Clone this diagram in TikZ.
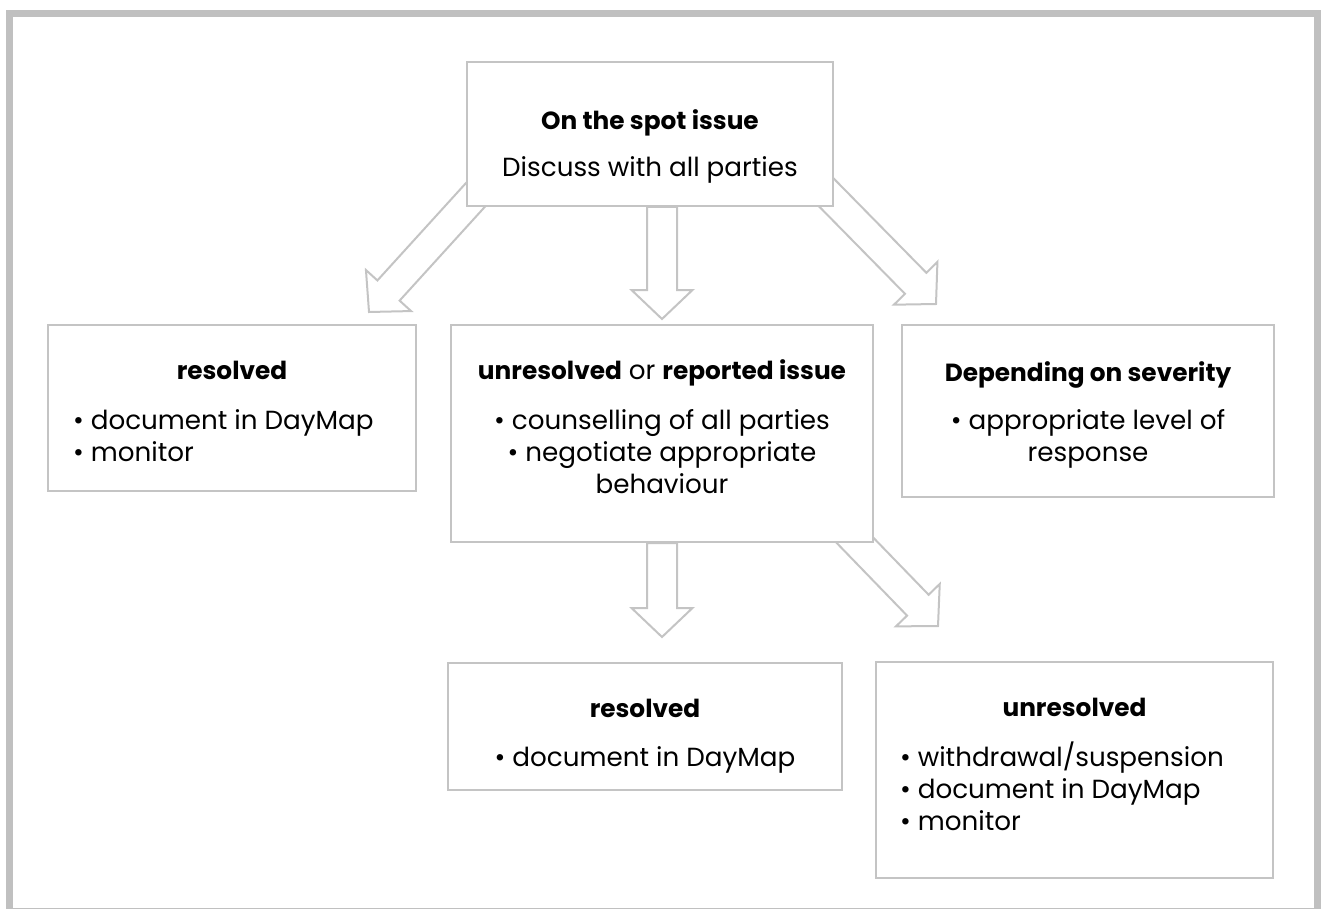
\documentclass[tikz,border=0pt]{standalone}
\usepackage{fontspec}
\setmainfont{Poppins}
\usetikzlibrary{positioning}
\usetikzlibrary{calc}
\usetikzlibrary{backgrounds}
\definecolor{framegray}{HTML}{C0C0C0}
\definecolor{boxgray}{HTML}{C4C4C4}
\tikzset{
  stage/.style={draw=boxgray, line width=1pt, fill=white, inner sep=0pt},
  arrowline/.style={draw=boxgray, line width=1pt, fill=white, line join=miter}
}
% bold heading, a little smaller than the body text
\newcommand\heading[1]{{\fontsize{12.4}{16}\selectfont\bfseries #1}}
% hollow block arrow from #1 to the tip #2
\newcommand\blockarrow[2]{
  \coordinate (ah) at ($(#2)!14.5pt!(#1)$);
  \draw[arrowline] ($(#1)!7.5pt!90:(#2)$) -- ($(ah)!7.5pt!90:(#2)$) -- ($(ah)!15.25pt!90:(#2)$)
    -- (#2) -- ($(ah)!15.25pt!-90:(#2)$) -- ($(ah)!7.5pt!-90:(#2)$) -- ($(#1)!7.5pt!-90:(#2)$) -- cycle;
}

\begin{document}
\begin{tikzpicture}[x=0.5pt, y=-0.5pt, font=\fontsize{13.1}{16}\selectfont]
  \useasboundingbox (0,0) rectangle (1321,909);
  \draw[framegray, line width=3.5pt] (9.5,13.5) rectangle (1317,911);

  \node[stage] (spot) at (650,134) {\parbox[c][72pt][t]{183pt}{\centering
    \rule{0pt}{34pt}\heading{On the spot issue}\par\vspace{7.5pt}
    Discuss with all parties}};
  \node[stage] (res) at (232,408) {\parbox[c][83pt][t]{184pt}{\centering
    \rule{0pt}{27pt}\heading{resolved}\par\vspace{9pt}
    \raggedright\leftskip=12.5pt
    \textbullet\ document in DayMap\\
    \textbullet\ monitor}};
  \node[stage] (unres) at (662,433.5) {\parbox[c][108.5pt][t]{211pt}{\centering
    \rule{0pt}{27pt}\heading{unresolved} or \heading{reported issue}\par\vspace{9pt}
    \textbullet\ counselling of all parties\\
    \textbullet\ negotiate appropriate\\
    behaviour}};
  \node[stage] (sev) at (1088,411) {\parbox[c][86pt][t]{186pt}{\centering
    \rule{0pt}{28pt}\heading{Depending on severity}\par\vspace{8pt}
    \textbullet\ appropriate level of\\
    response}};
  \node[stage] (res2) at (645,726.5) {\parbox[c][63.5pt][t]{197pt}{\centering
    \rule{0pt}{27pt}\heading{resolved}\par\vspace{8.5pt}
    \textbullet\ document in DayMap}};
  \node[stage] (unres2) at (1074.5,770) {\parbox[c][108pt][t]{198.5pt}{\centering
    \rule{0pt}{27pt}\heading{unresolved}\par\vspace{9pt}
    \raggedright\leftskip=12pt
    \textbullet\ withdrawal/suspension\\
    \textbullet\ document in DayMap\\
    \textbullet\ monitor}};

  % arrows sit behind the boxes
  \begin{scope}[on background layer]
    \coordinate (tipres) at ($(res.north east)+(-48,-12)$);
    \coordinate (tipsev) at ($(sev.north west)+(35,-20)$);
    \coordinate (tipunres2) at ($(unres2.north west)+(63,-35)$);
    \blockarrow{$(spot.south west)+(13,-16)$}{tipres}
    \blockarrow{spot.south -| unres.north}{$(unres.north)+(0,-5)$}
    \blockarrow{$(spot.south east)+(-13,-20)$}{tipsev}
    \blockarrow{unres.south}{$(res2.north -| unres.south)+(0,-25)$}
    \blockarrow{$(unres.south east)+(-28,-12)$}{tipunres2}
  \end{scope}
\end{tikzpicture}
\end{document}
